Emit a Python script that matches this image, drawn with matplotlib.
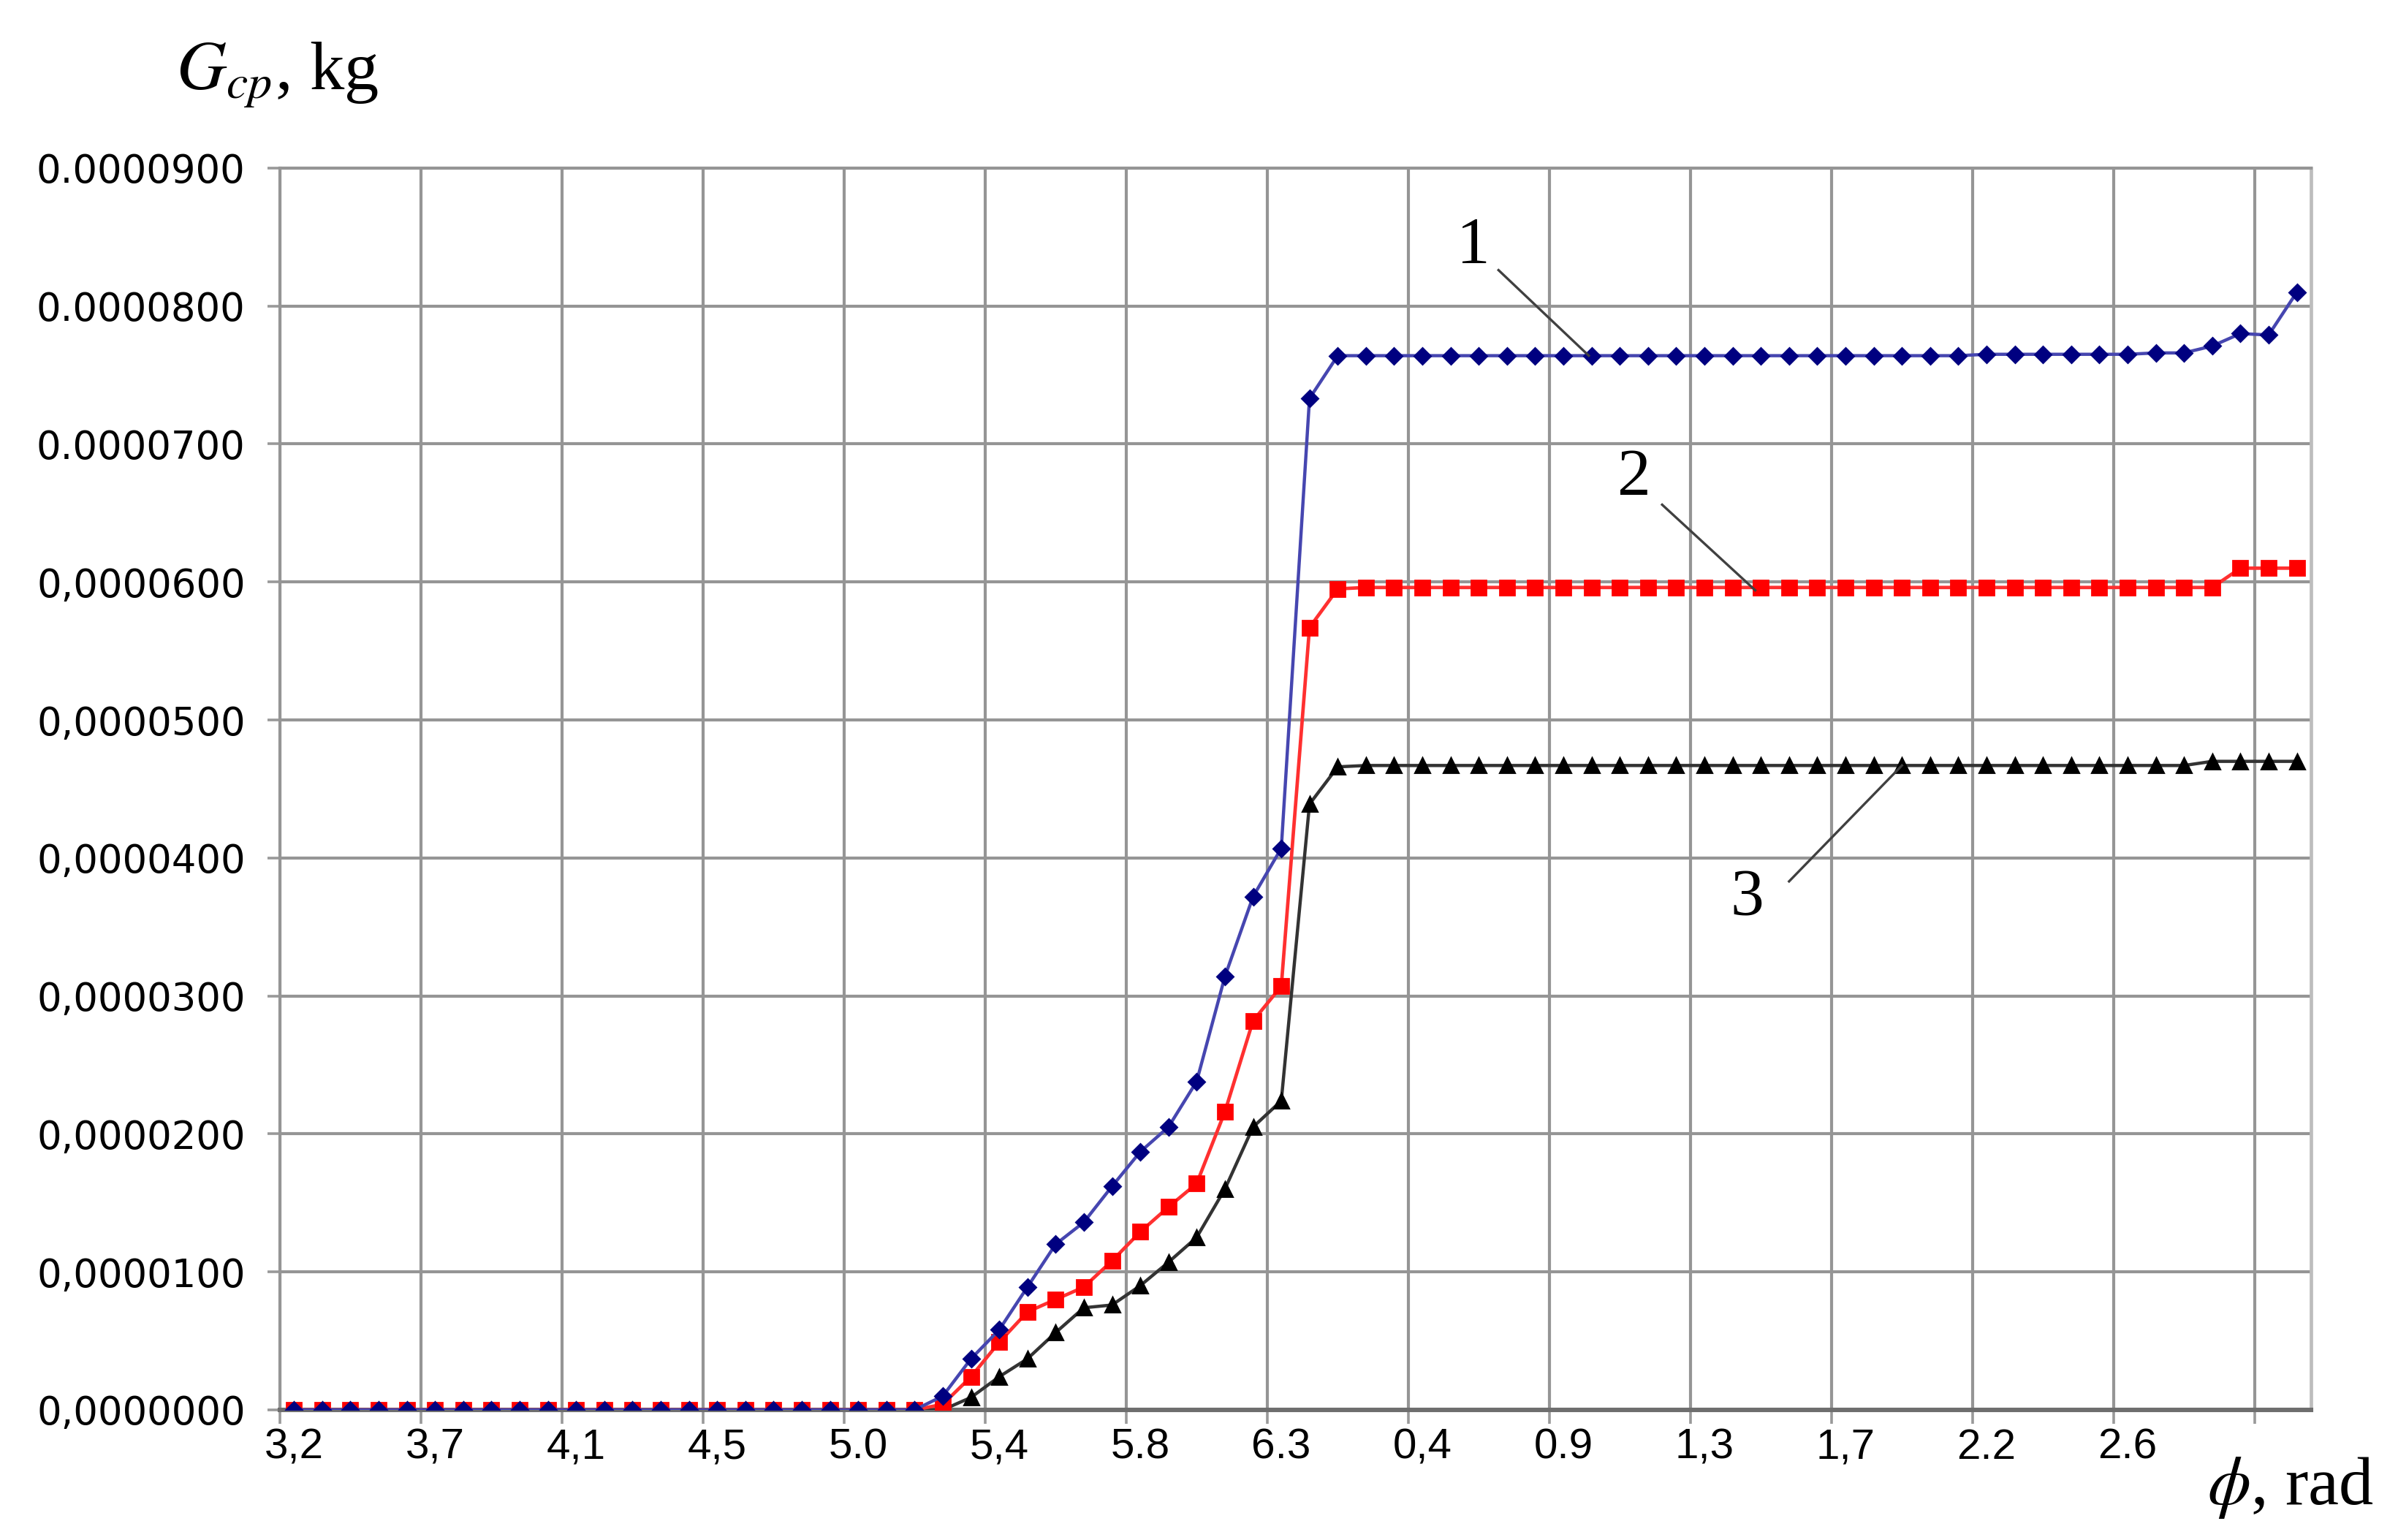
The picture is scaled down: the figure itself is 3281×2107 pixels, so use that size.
import numpy as np
import matplotlib
matplotlib.use("Agg")
import matplotlib.pyplot as plt

# categories: 72 angle steps, labels every 5th step
tick_labels = ["3,2", "3,7", "4,1", "4,5", "5.0", "5,4", "5.8",
               "6.3", "0,4", "0.9", "1,3", "1,7", "2.2", "2.6"]
y_labels = ["0,0000000", "0,0000100", "0,0000200", "0,0000300", "0,0000400",
            "0,0000500", "0,0000600", "0.0000700", "0.0000800", "0.0000900"]

# curve 1 (blue)
g1 = [0, 0, 0, 0, 0, 0, 0, 0, 0, 0,
      0, 0, 0, 0, 0, 0, 0, 0, 0, 0,
      0, 0, 0, 1.0e-6, 3.7e-6, 5.8e-6, 8.9e-6, 1.20e-5, 1.36e-5, 1.62e-5,
      1.87e-5, 2.05e-5, 2.38e-5, 3.14e-5, 3.72e-5, 4.07e-5, 7.33e-5, 7.64e-5, 7.64e-5, 7.64e-5,
      7.64e-5, 7.64e-5, 7.64e-5, 7.64e-5, 7.64e-5, 7.64e-5, 7.64e-5, 7.64e-5, 7.64e-5, 7.64e-5,
      7.64e-5, 7.64e-5, 7.64e-5, 7.64e-5, 7.64e-5, 7.64e-5, 7.64e-5, 7.64e-5, 7.64e-5, 7.64e-5,
      7.65e-5, 7.65e-5, 7.65e-5, 7.65e-5, 7.65e-5, 7.65e-5, 7.66e-5, 7.66e-5, 7.71e-5, 7.80e-5,
      7.79e-5, 8.10e-5]
# curve 2 (red)
g2 = [0, 0, 0, 0, 0, 0, 0, 0, 0, 0,
      0, 0, 0, 0, 0, 0, 0, 0, 0, 0,
      0, 0, 0, 0.4e-6, 2.4e-6, 4.9e-6, 7.1e-6, 8.0e-6, 8.9e-6, 1.08e-5,
      1.29e-5, 1.47e-5, 1.64e-5, 2.16e-5, 2.82e-5, 3.07e-5, 5.67e-5, 5.95e-5, 5.96e-5, 5.96e-5,
      5.96e-5, 5.96e-5, 5.96e-5, 5.96e-5, 5.96e-5, 5.96e-5, 5.96e-5, 5.96e-5, 5.96e-5, 5.96e-5,
      5.96e-5, 5.96e-5, 5.96e-5, 5.96e-5, 5.96e-5, 5.96e-5, 5.96e-5, 5.96e-5, 5.96e-5, 5.96e-5,
      5.96e-5, 5.96e-5, 5.96e-5, 5.96e-5, 5.96e-5, 5.96e-5, 5.96e-5, 5.96e-5, 5.96e-5, 6.10e-5,
      6.10e-5, 6.10e-5]
# curve 3 (black)
g3 = [0, 0, 0, 0, 0, 0, 0, 0, 0, 0,
      0, 0, 0, 0, 0, 0, 0, 0, 0, 0,
      0, 0, 0, 0, 0.9e-6, 2.4e-6, 3.7e-6, 5.6e-6, 7.4e-6, 7.6e-6,
      9.0e-6, 1.07e-5, 1.25e-5, 1.60e-5, 2.05e-5, 2.24e-5, 4.39e-5, 4.66e-5, 4.67e-5, 4.67e-5,
      4.67e-5, 4.67e-5, 4.67e-5, 4.67e-5, 4.67e-5, 4.67e-5, 4.67e-5, 4.67e-5, 4.67e-5, 4.67e-5,
      4.67e-5, 4.67e-5, 4.67e-5, 4.67e-5, 4.67e-5, 4.67e-5, 4.67e-5, 4.67e-5, 4.67e-5, 4.67e-5,
      4.67e-5, 4.67e-5, 4.67e-5, 4.67e-5, 4.67e-5, 4.67e-5, 4.67e-5, 4.67e-5, 4.70e-5, 4.70e-5,
      4.70e-5, 4.70e-5]

plt.rcParams['mathtext.fontset'] = 'stix'
SERIF = ['Liberation Serif', 'DejaVu Serif']
NARROW = ['Liberation Sans Narrow', 'Liberation Sans', 'DejaVu Sans']

fig = plt.figure(figsize=(16.405, 10.535), dpi=200)
ax = fig.add_axes([0.1167, 0.0845, 0.847, 0.8064])

n = len(g1)
x = np.arange(n) + 0.5

ax.plot(x, g3, '-', color='#333333', lw=1.6, marker='^', ms=7,
        mfc='black', mec='black', zorder=3)
ax.plot(x, g2, '-', color='#ff3030', lw=1.7, marker='s', ms=7.5,
        mfc='#ff0000', mec='#ff0000', zorder=4)
ax.plot(x, g1, '-', color='#4646b0', lw=1.6, marker='D', ms=5.5,
        mfc='#000080', mec='#000080', zorder=5)

ax.set_xlim(0, n)
ax.set_ylim(0, 9e-5)

# gridlines on category boundaries, labels centred on categories
ax.set_xticks(np.arange(0, n, 5))
ax.set_xticklabels([])
ax.set_xticks(np.arange(0, 5 * len(tick_labels), 5) + 0.5, minor=True)
ax.set_xticklabels(tick_labels, minor=True, family=NARROW, fontsize=21)
ax.tick_params(axis='x', which='major', length=7, width=1.3, color='#999999')
ax.tick_params(axis='x', which='minor', length=0, pad=9)

ax.set_yticks(np.arange(10) * 1e-5)
ax.set_yticklabels(y_labels, family='DejaVu Sans', fontsize=19)
ax.tick_params(axis='y', length=6, width=1.3, color='#999999', pad=11)

ax.grid(True, which='major', color='#959595', lw=1.5)
ax.set_axisbelow(True)
for side in ['left', 'top']:
    ax.spines[side].set_color('#959595')
    ax.spines[side].set_linewidth(1.5)
ax.spines['right'].set_color('#bdbdbd')
ax.spines['right'].set_linewidth(1.7)
ax.spines['bottom'].set_color('#6e6e6e')
ax.spines['bottom'].set_linewidth(2.2)

# curve numbers with leader lines
notes = [("1", (42.3, 8.43e-5), (43.2, 8.26e-5), (46.4, 7.64e-5)),
         ("2", (48.0, 6.75e-5), (49.0, 6.56e-5), (52.3, 5.94e-5)),
         ("3", (52.0, 3.70e-5), (53.5, 3.83e-5), (57.5, 4.67e-5))]
for label, txt, p0, p1 in notes:
    ax.text(txt[0], txt[1], label, family=SERIF, fontsize=33,
            ha='center', va='center', zorder=6)
    ax.plot([p0[0], p1[0]], [p0[1], p1[1]], color='#404040', lw=1.2, zorder=6)

fig.text(0.0735, 0.9426, r"$G_{cp}$, kg", family=SERIF, fontsize=34,
         ha='left', va='baseline')
fig.text(0.9204, 0.0233, r"$\phi$, rad", family=SERIF, fontsize=34,
         ha='left', va='baseline')

fig.savefig("out.png", dpi=200)
